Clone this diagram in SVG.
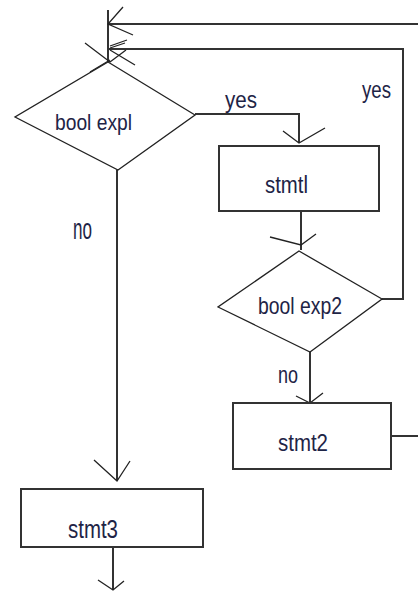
<svg xmlns="http://www.w3.org/2000/svg" width="418" height="591" viewBox="0 0 418 591">
<style>
.box{fill:#fff;stroke:#333;stroke-width:2}
.dia{fill:#fff;stroke:#222;stroke-width:1.3}
.ln{fill:none;stroke:#333;stroke-width:2}
.ah{fill:none;stroke:#222;stroke-width:1.3}
.t{font-family:"Liberation Sans",Arial,sans-serif;fill:#1e2446}
</style>
<rect width="418" height="591" fill="#fff"/>
<g id="connectors">
<path class="ln" d="M391,436 H418"/>
<path class="ln" d="M418,24 H108"/>
<path class="ln" d="M382,299 H403 V49 H108"/>
<path class="ln" d="M108,10 V62"/>
<path class="ln" d="M195,114 H299 V143"/>
<path class="ln" d="M301,211 V250"/>
<path class="ln" d="M310,352 V403"/>
<path class="ln" d="M117,170 V481"/>
<path class="ln" d="M113,547 V590"/>
<path class="ah" d="M123,7 L108,24 L133,35"/>
<path class="ah" d="M127,40 L110,46 M125,43 L110,48 M110,50 L135,65"/>
<path class="ah" d="M85,43 L110,62 L126,50 M90,72 L110,60"/>
<path class="ah" d="M283,131 L299,143 L325,128"/>
<path class="ah" d="M270,237 L301,245 L316,234"/>
<path class="ah" d="M296,396 L310,403 L323,393"/>
<path class="ah" d="M94,460 L117,481 L130,461"/>
<path class="ah" d="M98,580 L113,590 L124,581"/>
<text class="t" x="225" y="108" font-size="24" textLength="32" lengthAdjust="spacingAndGlyphs">yes</text>
<text class="t" x="362" y="98" font-size="24" textLength="29" lengthAdjust="spacingAndGlyphs">yes</text>
<text class="t" x="73" y="239" font-size="30" textLength="19" lengthAdjust="spacingAndGlyphs">no</text>
<text class="t" x="278" y="383" font-size="24" textLength="20" lengthAdjust="spacingAndGlyphs">no</text>
</g>
<g id="d1">
<polygon class="dia" points="108,62 195,115 118,170 15,117"/>
<text class="t" x="55" y="130" font-size="22" textLength="77" lengthAdjust="spacingAndGlyphs">bool expl</text>
</g>
<g id="s1">
<rect class="box" x="219" y="146" width="160" height="65"/>
<text class="t" x="265" y="193" font-size="23" textLength="43" lengthAdjust="spacingAndGlyphs">stmtl</text>
</g>
<g id="d2">
<polygon class="dia" points="299,251 382,299 310,352 218,307"/>
<text class="t" x="258" y="314" font-size="24" textLength="84" lengthAdjust="spacingAndGlyphs">bool exp2</text>
</g>
<g id="s2">
<rect class="box" x="233" y="403" width="158" height="66"/>
<text class="t" x="278" y="451" font-size="24" textLength="50" lengthAdjust="spacingAndGlyphs">stmt2</text>
</g>
<g id="s3">
<rect class="box" x="21" y="489" width="182" height="58"/>
<text class="t" x="68" y="538" font-size="25" textLength="50" lengthAdjust="spacingAndGlyphs">stmt3</text>
</g>
</svg>
